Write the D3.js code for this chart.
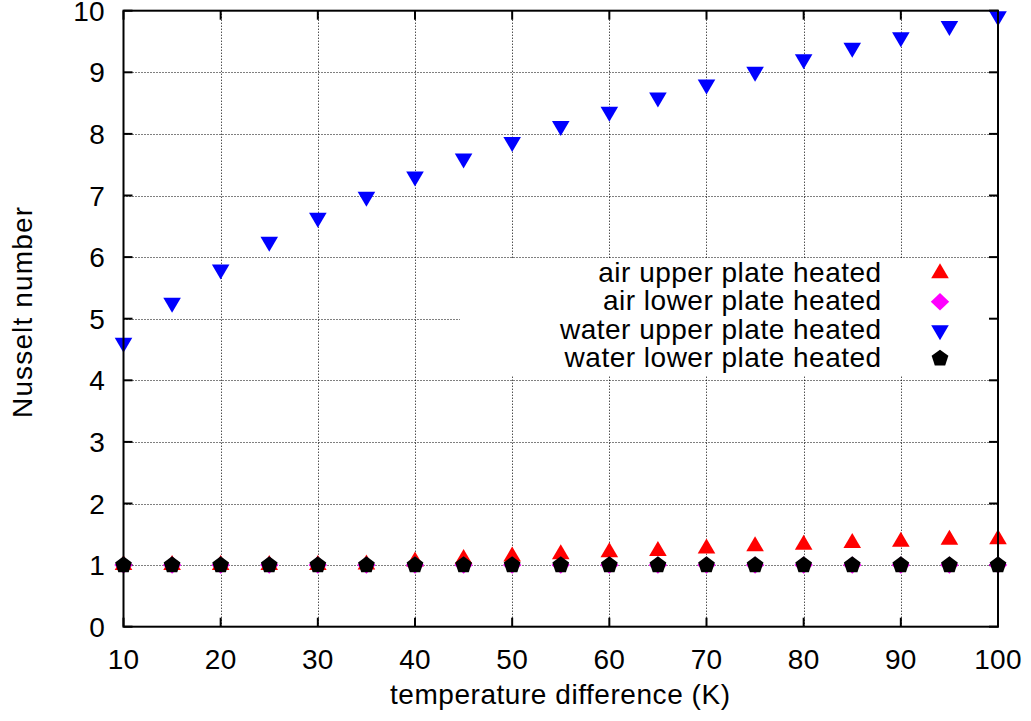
<!DOCTYPE html>
<html>
<head>
<meta charset="utf-8">
<script src="https://cdn.jsdelivr.net/npm/d3@7"></script>
<style>
  html, body { margin: 0; padding: 0; background: #fff; }
  svg { display: block; }
  text { font-family: "Liberation Sans", Arial, Helvetica, sans-serif; fill: #000; }
</style>
</head>
<body>
<svg id="chart" width="1031" height="721"></svg>
<script>
// ---- data ----
const temps = [10, 15, 20, 25, 30, 35, 40, 45, 50, 55, 60, 65, 70, 75, 80, 85, 90, 95, 100];
const airUpper = [1.00, 1.00, 1.00, 1.00, 1.00, 1.01, 1.06, 1.10, 1.14, 1.175, 1.21, 1.23, 1.27, 1.305, 1.33, 1.36, 1.38, 1.41, 1.42];
const airLower = [1.00, 1.00, 1.00, 1.00, 1.00, 1.00, 1.00, 1.00, 1.00, 1.00, 1.00, 1.00, 1.00, 1.00, 1.00, 1.00, 1.00, 1.00, 1.00];
const waterUpper = [4.61, 5.26, 5.80, 6.25, 6.64, 6.98, 7.31, 7.60, 7.87, 8.13, 8.36, 8.59, 8.80, 9.01, 9.21, 9.40, 9.57, 9.75, 9.91];
const waterLower = [1.00, 1.00, 1.00, 1.00, 1.00, 1.00, 1.00, 1.00, 1.00, 1.00, 1.00, 1.00, 1.00, 1.00, 1.00, 1.00, 1.00, 1.00, 1.00];
const xTicks = [10, 20, 30, 40, 50, 60, 70, 80, 90, 100];
const yTicks = [0, 1, 2, 3, 4, 5, 6, 7, 8, 9, 10];
const seriesNames = ["air upper plate heated", "air lower plate heated", "water upper plate heated", "water lower plate heated"];
const xTitle = "temperature difference (K)";
const yTitle = "Nusselt number";

// ---- layout ----
const L = 123.5, R = 998, T = 10.7, B = 626.7;
const x = d3.scaleLinear().domain([10, 100]).range([L, R]);
const y = d3.scaleLinear().domain([0, 10]).range([B, T]);
const svg = d3.select("#chart");

// marker shapes (centered on data point)
const shapes = {
  triUp: "M0,-10L8.8,5L-8.8,5Z",
  diamond: "M0,-8.7L9.2,0L0,8.7L-9.2,0Z",
  triDown: "M0,10L8.8,-5L-8.8,-5Z",
  pentagon: (() => {
    const r = 8.8; const pts = [];
    for (let i = 0; i < 5; i++) {
      const a = -Math.PI / 2 + i * 2 * Math.PI / 5;
      pts.push([r * Math.cos(a), r * Math.sin(a)]);
    }
    return "M" + pts.map(p => p[0].toFixed(2) + "," + p[1].toFixed(2)).join("L") + "Z";
  })()
};
const series = [
  { name: seriesNames[0], values: airUpper, color: "#ff0000", shape: shapes.triUp },
  { name: seriesNames[1], values: airLower, color: "#ff00ff", shape: shapes.diamond },
  { name: seriesNames[2], values: waterUpper, color: "#0000ff", shape: shapes.triDown },
  { name: seriesNames[3], values: waterLower, color: "#000000", shape: shapes.pentagon }
];

// ---- grid ----
const grid = svg.append("g").attr("stroke", "#000").attr("stroke-width", 1).attr("stroke-dasharray", "1,2");
grid.selectAll("line.gx").data(xTicks.slice(1, -1)).join("line")
  .attr("x1", d => Math.round(x(d)) + 0.5).attr("x2", d => Math.round(x(d)) + 0.5)
  .attr("y1", T).attr("y2", B);
grid.selectAll("line.gy").data(yTicks.slice(1, -1)).join("line")
  .attr("y1", d => Math.round(y(d)) + 0.5).attr("y2", d => Math.round(y(d)) + 0.5)
  .attr("x1", L).attr("x2", R);

// ---- legend background (opaque key) ----
svg.append("rect").attr("x", 460).attr("y", 259).attr("width", R - 461).attr("height", 117).attr("fill", "#fff");

// ---- ticks (mirrored, inward) ----
const tk = svg.append("g").attr("stroke", "#000").attr("stroke-width", 2);
xTicks.forEach(t => {
  tk.append("line").attr("x1", x(t)).attr("x2", x(t)).attr("y1", B).attr("y2", B - 9);
  tk.append("line").attr("x1", x(t)).attr("x2", x(t)).attr("y1", T).attr("y2", T + 9);
});
yTicks.forEach(t => {
  tk.append("line").attr("x1", L).attr("x2", L + 9).attr("y1", y(t)).attr("y2", y(t));
  tk.append("line").attr("x1", R).attr("x2", R - 9).attr("y1", y(t)).attr("y2", y(t));
});

// ---- axes tick labels ----
svg.append("g").selectAll("text").data(xTicks).join("text")
  .attr("x", d => x(d)).attr("y", 668.5).attr("text-anchor", "middle")
  .attr("font-size", 28).attr("letter-spacing", 0.3).text(d => d);
svg.append("g").selectAll("text").data(yTicks).join("text")
  .attr("x", 105).attr("y", d => y(d) + 10).attr("text-anchor", "end")
  .attr("font-size", 28).attr("letter-spacing", 0.3).text(d => d);

// ---- axis titles ----
svg.append("text").attr("x", 560).attr("y", 703.5).attr("text-anchor", "middle")
  .attr("font-size", 28).attr("textLength", 340).attr("lengthAdjust", "spacing").text(xTitle);
svg.append("text").attr("transform", "translate(31.5,312.5) rotate(-90)").attr("text-anchor", "middle")
  .attr("font-size", 28).attr("textLength", 211).attr("lengthAdjust", "spacing").text(yTitle);

// ---- data points ----
series.forEach(s => {
  svg.append("g").selectAll("path").data(temps.map((t, i) => [t, s.values[i]])).join("path")
    .attr("d", s.shape).attr("fill", s.color)
    .attr("transform", d => `translate(${x(d[0])},${y(d[1])})`);
});

// ---- legend ----
const legendBase = [281.7, 310.2, 338.7, 367.0];
series.forEach((s, i) => {
  svg.append("text").attr("x", 881.7).attr("y", legendBase[i]).attr("text-anchor", "end")
    .attr("font-size", 28).attr("letter-spacing", 0.5).text(s.name);
  svg.append("path").attr("d", s.shape).attr("fill", s.color)
    .attr("transform", `translate(940,${legendBase[i] - 8.5})`);
});

// ---- border ----
svg.append("rect").attr("x", L).attr("y", T).attr("width", R - L).attr("height", B - T)
  .attr("fill", "none").attr("stroke", "#000").attr("stroke-width", 2);
</script>
</body>
</html>
